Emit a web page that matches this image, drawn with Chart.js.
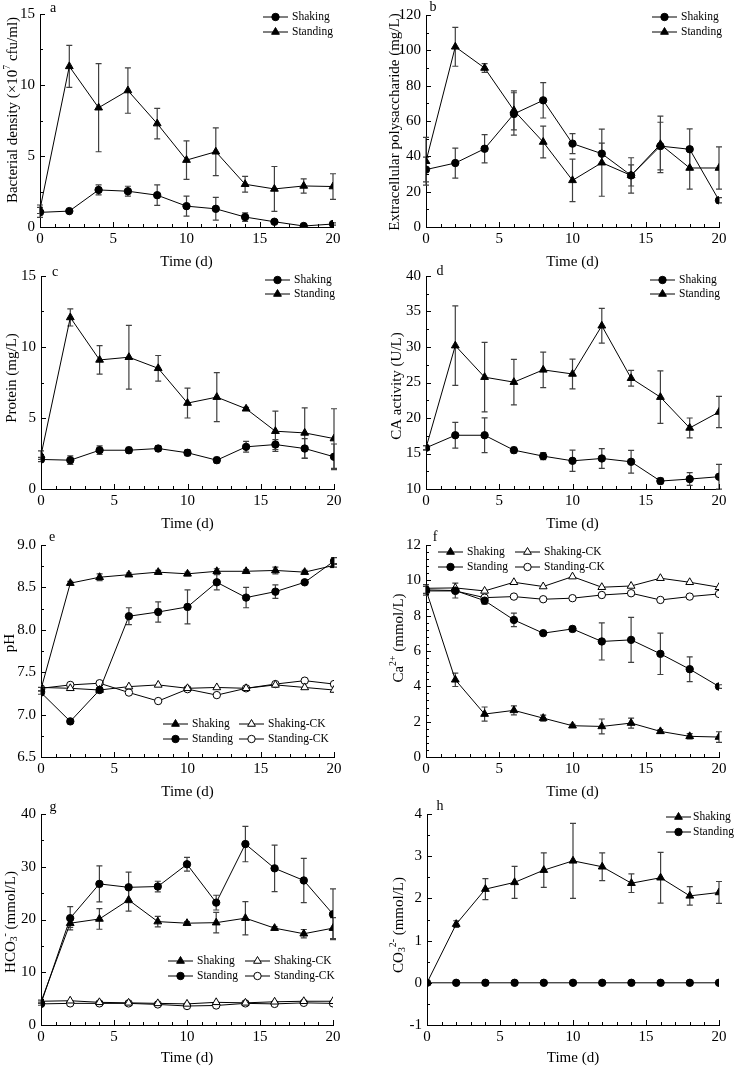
<!DOCTYPE html>
<html>
<head>
<meta charset="utf-8">
<script src="https://cdn.jsdelivr.net/npm/chart.js@4.4.0/dist/chart.umd.min.js"></script>
<style>
  html, body { margin: 0; padding: 0; background: #fff; }
  #page { position: relative; width: 735px; height: 1070px; overflow: hidden; }
  canvas { position: absolute; }
</style>
</head>
<body>
<div id="page"></div>
<script>
const days = [0, 2, 4, 6, 8, 10, 12, 14, 16, 18, 20];
const xTicks = [0, 5, 10, 15, 20];

// a - bacterial density
const densityShaking = [1.03, 1.12, 2.61, 2.52, 2.24, 1.47, 1.28, 0.70, 0.37, 0.07, 0.21];
const densityShakingErr = [0.35, 0.05, 0.35, 0.35, 0.72, 0.70, 0.80, 0.30, 0.10, 0.05, 0.08];
const densityStanding = [1.25, 11.31, 8.40, 9.61, 7.28, 4.71, 5.30, 3.01, 2.68, 2.89, 2.85];
const densityStandingErr = [0.30, 1.48, 3.10, 1.60, 1.08, 1.36, 1.68, 0.56, 1.58, 0.50, 0.90];

// b - extracellular polysaccharide
const epsShaking = [32.5, 36.2, 44.3, 64.0, 71.7, 47.2, 41.5, 29.2, 45.8, 44.0, 15.1];
const epsShakingErr = [7, 8.5, 8, 12, 10, 5.7, 6, 10, 13.5, 11.5, 1.5];
const epsStanding = [37.2, 102, 90, 66, 48.1, 26.4, 36.4, 29.2, 46.8, 33.4, 33.4];
const epsStandingErr = [13.5, 11, 2.5, 11, 9, 12, 19, 6, 16, 12, 12];

// c - protein
const proteinShaking = [2.08, 2.03, 2.73, 2.73, 2.85, 2.55, 2.03, 2.97, 3.13, 2.85, 2.27];
const proteinShakingErr = [0.15, 0.3, 0.3, 0.2, 0.2, 0.2, 0.2, 0.38, 0.35, 0.7, 0.9];
const proteinStanding = [2.38, 12.08, 9.09, 9.28, 8.50, 6.05, 6.47, 5.65, 4.07, 3.95, 3.55];
const proteinStandingErr = [0.3, 0.6, 1.0, 2.24, 0.9, 1.05, 1.72, 0.1, 1.42, 1.77, 2.1];

// d - CA activity
const caShaking = [15.8, 17.57, 17.57, 15.47, 14.63, 13.97, 14.3, 13.83, 11.12, 11.4, 11.73];
const caShakingErr = [0.3, 1.8, 2.45, 0.4, 0.5, 1.5, 1.4, 1.6, 0.4, 0.9, 1.75];
const caStanding = [15.8, 30.19, 25.75, 25.05, 26.78, 26.2, 32.99, 25.6, 22.94, 18.6, 20.84];
const caStandingErr = [0.3, 5.6, 4.9, 3.2, 2.5, 2.1, 2.45, 1.1, 3.7, 1.4, 2.2];

// e - pH
const phShaking = [7.30, 8.55, 8.62, 8.65, 8.68, 8.66, 8.69, 8.69, 8.70, 8.68, 8.76];
const phShakingErr = [0.02, 0.02, 0.04, 0.02, 0.02, 0.02, 0.03, 0.02, 0.04, 0.02, 0.02];
const phStanding = [7.26, 6.92, 7.29, 8.16, 8.21, 8.27, 8.56, 8.38, 8.45, 8.56, 8.81];
const phStandingErr = [0.02, 0.02, 0.02, 0.1, 0.12, 0.2, 0.09, 0.12, 0.08, 0.02, 0.04];
const phShakingCK = [7.32, 7.31, 7.29, 7.33, 7.35, 7.31, 7.32, 7.31, 7.35, 7.32, 7.29];
const phStandingCK = [7.31, 7.35, 7.37, 7.26, 7.16, 7.30, 7.23, 7.31, 7.36, 7.40, 7.36];

// f - Ca2+
const caIonShaking = [9.46, 4.37, 2.43, 2.64, 2.20, 1.77, 1.73, 1.92, 1.45, 1.17, 1.13];
const caIonShakingErr = [0.2, 0.38, 0.4, 0.25, 0.17, 0.08, 0.42, 0.28, 0.1, 0.15, 0.3];
const caIonStanding = [9.46, 9.42, 8.85, 7.76, 7.01, 7.25, 6.54, 6.63, 5.84, 4.97, 3.99];
const caIonStandingErr = [0.3, 0.42, 0.2, 0.38, 0.1, 0.15, 1.05, 1.27, 1.17, 0.7, 0.1];
const caIonShakingCK = [9.55, 9.57, 9.40, 9.89, 9.65, 10.21, 9.61, 9.68, 10.12, 9.89, 9.61];
const caIonStandingCK = [9.40, 9.40, 9.02, 9.08, 8.93, 8.99, 9.17, 9.27, 8.89, 9.08, 9.23];

// g - HCO3-
const hco3Shaking = [4.4, 19.3, 20.1, 23.7, 19.6, 19.3, 19.4, 20.25, 18.36, 17.3, 18.36];
const hco3ShakingErr = [0.3, 0.8, 1.95, 2.1, 1.0, 0.3, 1.95, 3.15, 0.3, 0.8, 2.0];
const hco3Standing = [4.04, 20.25, 26.75, 26.1, 26.25, 30.47, 23.2, 34.3, 29.7, 27.4, 21.0];
const hco3StandingErr = [0.3, 2.2, 3.4, 2.9, 1.0, 1.3, 1.4, 3.35, 4.4, 4.2, 4.8];
const hco3ShakingCK = [4.5, 4.6, 4.3, 4.2, 4.1, 4.0, 4.3, 4.2, 4.4, 4.5, 4.5];
const hco3StandingCK = [4.0, 4.1, 4.1, 4.1, 3.9, 3.6, 3.7, 4.1, 4.0, 4.2, 4.1];

// h - CO3 2-
const co3Shaking = [0, 1.39, 2.22, 2.38, 2.67, 2.89, 2.75, 2.36, 2.49, 2.06, 2.14];
const co3ShakingErr = [0, 0.08, 0.25, 0.38, 0.41, 0.89, 0.33, 0.22, 0.6, 0.22, 0.26];
const co3Standing = [0, 0, 0, 0, 0, 0, 0, 0, 0, 0, 0];

const FONT = "'Liberation Serif', 'Times New Roman', serif";
Chart.defaults.font.family = FONT;
Chart.defaults.font.size = 15;
Chart.defaults.color = "#000";

function series(label, vals, err, style, filled) {
  return {
    label: label,
    data: days.map((d, i) => ({ x: d, y: vals[i] })),
    err: err,
    borderColor: "#000",
    borderWidth: 1,
    pointStyle: style,
    pointRadius: style === "triangle" ? 4.5 : 3.7,
    pointBackgroundColor: filled ? "#000" : "#fff",
    pointBorderColor: "#000",
    pointBorderWidth: 1,
  };
}

function drawRich(ctx, segs, size) {
  let total = 0;
  segs.forEach((s) => {
    ctx.font = (s.sup || s.sub ? size * 0.65 : size) + "px " + FONT;
    total += ctx.measureText(s.t).width;
  });
  let x = -total / 2;
  segs.forEach((s) => {
    const fs = s.sup || s.sub ? size * 0.65 : size;
    ctx.font = fs + "px " + FONT;
    const dy = s.sup ? -size * 0.35 : s.sub ? size * 0.25 : 0;
    ctx.fillText(s.t, x, dy);
    x += ctx.measureText(s.t).width;
  });
}

function decor(p) {
  const ox = p.cell[0], oy = p.cell[1];
  const gap = p.legendGap || 29;
  return {
    id: "decor" + p.letter,
    beforeDatasetsDraw(chart) {
      const ctx = chart.ctx, xs = chart.scales.x, ys = chart.scales.y;
      ctx.save();
      ctx.strokeStyle = "#404040";
      ctx.lineWidth = 1.2;
      chart.data.datasets.forEach((ds) => {
        if (!ds.err) return;
        ds.data.forEach((pt, i) => {
          const e = ds.err[i];
          if (!e) return;
          const x = xs.getPixelForValue(pt.x);
          const y1 = ys.getPixelForValue(pt.y + e);
          const y2 = ys.getPixelForValue(pt.y - e);
          ctx.beginPath();
          ctx.moveTo(x, y1); ctx.lineTo(x, y2);
          ctx.moveTo(x - 3, y1); ctx.lineTo(x + 3, y1);
          ctx.moveTo(x - 3, y2); ctx.lineTo(x + 3, y2);
          ctx.stroke();
        });
      });
      ctx.restore();
    },
    afterDraw(chart) {
      const ctx = chart.ctx, xs = chart.scales.x, ys = chart.scales.y;
      const area = chart.chartArea;
      ctx.save();
      // inner ticks
      ctx.strokeStyle = "#000";
      ctx.lineWidth = 1;
      ctx.beginPath();
      for (let v = p.y[0]; v <= p.y[1] + 1e-9; v += p.y[3]) {
        const py = Math.round(ys.getPixelForValue(v)) + 0.5;
        const r = v / p.y[2];
        const len = Math.abs(r - Math.round(r)) < 1e-6 ? 5 : 3;
        ctx.moveTo(area.left, py); ctx.lineTo(area.left + len, py);
      }
      for (let v = 0; v <= 20; v += 1) {
        const px = Math.round(xs.getPixelForValue(v)) + 0.5;
        const len = v % 5 === 0 ? 5 : 3;
        ctx.moveTo(px, area.bottom); ctx.lineTo(px, area.bottom - len);
      }
      ctx.stroke();

      // titles
      ctx.fillStyle = "#000";
      ctx.textBaseline = "middle";
      ctx.textAlign = "center";
      ctx.font = "15px " + FONT;
      ctx.fillText("Time (d)", (area.left + area.right) / 2, p.xTitleY - oy);
      ctx.save();
      ctx.translate(p.yTitlePos[0] - ox, p.yTitlePos[1] - oy);
      ctx.rotate(-Math.PI / 2);
      ctx.textAlign = "left";
      drawRich(ctx, p.yTitle, 15);
      ctx.restore();

      ctx.font = "14px " + FONT;
      ctx.fillText(p.letter, p.letterPos[0] - ox, p.letterPos[1] - oy);

      // legend
      ctx.textAlign = "left";
      ctx.font = "11.5px " + FONT;
      p.legend.forEach((item) => {
        const ds = chart.data.datasets[item[0]];
        const lx = item[1] - ox, ly = item[2] - oy;
        ctx.strokeStyle = "#000";
        ctx.lineWidth = 1;
        ctx.beginPath();
        ctx.moveTo(lx, ly); ctx.lineTo(lx + 25, ly);
        ctx.stroke();
        ctx.fillStyle = ds.pointBackgroundColor;
        Chart.helpers.drawPoint(ctx, {
          pointStyle: ds.pointStyle, rotation: 0,
          radius: ds.pointRadius, borderWidth: 1,
        }, lx + 12.5, ly);
        ctx.fillStyle = "#000";
        ctx.fillText(ds.label, lx + gap, ly);
      });
      ctx.restore();
    },
  };
}

const panels = [
  {
    letter: "a", cell: [0, 0, 367, 275], plot: [40, 12, 333, 227], y: [0, 15, 5, 2.5],
    yTitle: [{ t: "Bacterial density (×10" }, { t: "7", sup: 1 }, { t: " cfu/ml)" }],
    yTitlePos: [13, 110], letterPos: [53, 8], xTitleY: 262,
    legend: [[0, 263, 17], [1, 263, 32]],
    datasets: [
      series("Shaking", densityShaking, densityShakingErr, "circle", true),
      series("Standing", densityStanding, densityStandingErr, "triangle", true),
    ],
  },
  {
    letter: "b", cell: [367, 0, 368, 275], plot: [426, 15, 719, 227], y: [0, 120, 20, 10],
    yTitle: [{ t: "Extracellular polysaccharide (mg/L)" }],
    yTitlePos: [395, 122], letterPos: [433, 7], xTitleY: 262,
    legend: [[0, 652, 17], [1, 652, 32]],
    datasets: [
      series("Shaking", epsShaking, epsShakingErr, "circle", true),
      series("Standing", epsStanding, epsStandingErr, "triangle", true),
    ],
  },
  {
    letter: "c", cell: [0, 262, 367, 275], plot: [41, 275, 334, 489], y: [0, 15, 5, 2.5],
    yTitle: [{ t: "Protein (mg/L)" }],
    yTitlePos: [12, 378], letterPos: [55, 272], xTitleY: 524,
    legend: [[0, 265, 280], [1, 265, 294]],
    datasets: [
      series("Shaking", proteinShaking, proteinShakingErr, "circle", true),
      series("Standing", proteinStanding, proteinStandingErr, "triangle", true),
    ],
  },
  {
    letter: "d", cell: [367, 262, 368, 275], plot: [426, 275, 719, 489], y: [10, 40, 5, 2.5],
    yTitle: [{ t: "CA activity (U/L)" }],
    yTitlePos: [397, 386], letterPos: [440, 271], xTitleY: 524,
    legend: [[0, 650, 280], [1, 650, 294]],
    datasets: [
      series("Shaking", caShaking, caShakingErr, "circle", true),
      series("Standing", caStanding, caStandingErr, "triangle", true),
    ],
  },
  {
    letter: "e", cell: [0, 528, 367, 275], plot: [41, 545, 334, 757], y: [6.5, 9.0, 0.5, 0.25],
    yTitle: [{ t: "pH" }], fixed: 1,
    yTitlePos: [10, 643], letterPos: [52, 537], xTitleY: 792,
    legend: [[0, 163, 724], [2, 239, 724], [1, 163, 739], [3, 239, 739]],
    datasets: [
      series("Shaking", phShaking, phShakingErr, "triangle", true),
      series("Standing", phStanding, phStandingErr, "circle", true),
      series("Shaking-CK", phShakingCK, null, "triangle", false),
      series("Standing-CK", phStandingCK, null, "circle", false),
    ],
  },
  {
    letter: "f", cell: [367, 528, 368, 275], plot: [426, 545, 719, 757], y: [0, 12, 2, 0.4],
    yTitle: [{ t: "Ca" }, { t: "2+", sup: 1 }, { t: " (mmol/L)" }],
    yTitlePos: [399, 638], letterPos: [435, 537], xTitleY: 792,
    legend: [[0, 438, 552], [2, 515, 552], [1, 438, 567], [3, 515, 567]],
    datasets: [
      series("Shaking", caIonShaking, caIonShakingErr, "triangle", true),
      series("Standing", caIonStanding, caIonStandingErr, "circle", true),
      series("Shaking-CK", caIonShakingCK, null, "triangle", false),
      series("Standing-CK", caIonStandingCK, null, "circle", false),
    ],
  },
  {
    letter: "g", cell: [0, 795, 367, 275], plot: [41, 814, 333, 1025], y: [0, 40, 10, 5],
    yTitle: [{ t: "HCO" }, { t: "3", sub: 1 }, { t: "-", sup: 1 }, { t: " (mmol/L)" }],
    yTitlePos: [11, 922], letterPos: [53, 807], xTitleY: 1058,
    legend: [[0, 168, 961], [2, 245, 961], [1, 168, 976], [3, 245, 976]],
    datasets: [
      series("Shaking", hco3Shaking, hco3ShakingErr, "triangle", true),
      series("Standing", hco3Standing, hco3StandingErr, "circle", true),
      series("Shaking-CK", hco3ShakingCK, null, "triangle", false),
      series("Standing-CK", hco3StandingCK, null, "circle", false),
    ],
  },
  {
    letter: "h", cell: [367, 795, 368, 275], plot: [427, 814, 719, 1025], y: [-1, 4, 1, 0.5],
    yTitle: [{ t: "CO" }, { t: "3", sub: 1 }, { t: "2-", sup: 1 }, { t: " (mmol/L)" }],
    yTitlePos: [399, 925], letterPos: [440, 806], xTitleY: 1058,
    legend: [[0, 666, 817], [1, 666, 832]], legendGap: 27,
    datasets: [
      series("Shaking", co3Shaking, co3ShakingErr, "triangle", true),
      series("Standing", co3Standing, null, "circle", true),
    ],
  },
];

const page = document.getElementById("page");

panels.forEach((p) => {
  const c = document.createElement("canvas");
  c.width = p.cell[2];
  c.height = p.cell[3];
  c.style.left = p.cell[0] + "px";
  c.style.top = p.cell[1] + "px";
  page.appendChild(c);

  const yW = p.plot[0] - p.cell[0];
  const padTop = p.plot[1] - p.cell[1];
  const padRight = p.cell[0] + p.cell[2] - p.plot[2];
  const xH = p.cell[1] + p.cell[3] - p.plot[3];

  new Chart(c, {
    type: "line",
    data: { datasets: p.datasets },
    plugins: [decor(p)],
    options: {
      responsive: false,
      animation: false,
      layout: { padding: { left: 0, top: padTop, right: padRight, bottom: 0 } },
      plugins: { legend: { display: false }, tooltip: { enabled: false } },
      scales: {
        x: {
          type: "linear",
          min: 0,
          max: 20,
          afterFit: (s) => { s.height = xH; },
          afterBuildTicks: (s) => { s.ticks = xTicks.map((v) => ({ value: v })); },
          ticks: { padding: 3, font: { size: 15 } },
          grid: { drawOnChartArea: false, drawTicks: false },
          border: { color: "#000", width: 1 },
        },
        y: {
          type: "linear",
          min: p.y[0],
          max: p.y[1],
          afterFit: (s) => { s.width = yW; },
          ticks: {
            stepSize: p.y[2],
            padding: 5,
            font: { size: 15 },
            callback: (v) => (p.fixed ? v.toFixed(1) : v),
          },
          grid: { drawOnChartArea: false, drawTicks: false },
          border: { color: "#000", width: 1 },
        },
      },
    },
  });
});
</script>
</body>
</html>
